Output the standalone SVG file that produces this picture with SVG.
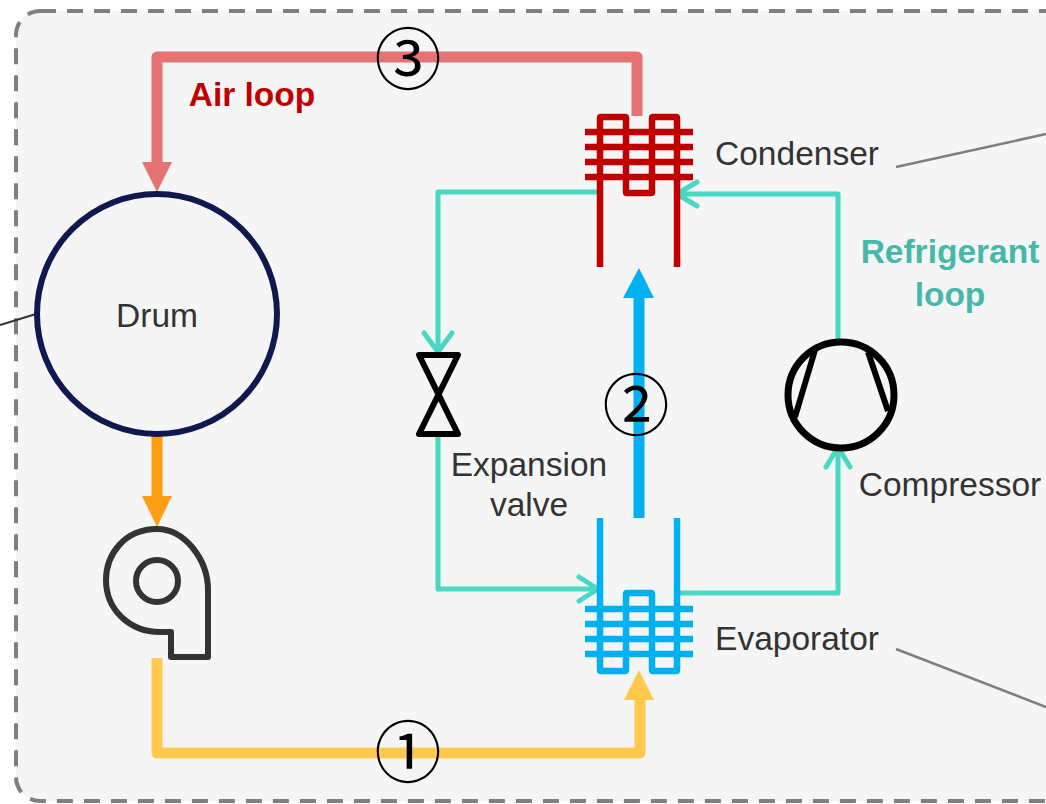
<svg xmlns="http://www.w3.org/2000/svg" width="1046" height="804" viewBox="0 0 1046 804">
<defs>
<style>
.t{font-family:"Liberation Sans",Arial,sans-serif;font-size:33.5px;fill:#333;text-anchor:middle}
.b{font-weight:bold;font-size:33.5px}
.n{font-family:"Noto Sans CJK JP","DejaVu Sans",sans-serif;font-size:67px;fill:#000;text-anchor:middle}
.r{fill:none;stroke:#48d8c4;stroke-width:5;stroke-linecap:round;stroke-linejoin:round}
.c{fill:none;stroke:#c00000;stroke-width:6.5;stroke-linecap:butt;stroke-linejoin:round}
.e{fill:none;stroke:#00b0f0;stroke-width:6.5;stroke-linejoin:round}
.k{fill:none;stroke:#000;stroke-width:6;stroke-linejoin:round}
.g{fill:none;stroke:#7f7f7f;stroke-width:2.5}
</style>
</defs>
<rect id="frame" x="16" y="11" width="1060" height="790" rx="24" fill="#f5f5f5" stroke="#7f7f7f" stroke-width="4" stroke-dasharray="16 11"/>
<g id="connectors">
<path d="M637 116V57H157V166" fill="none" stroke="#e57373" stroke-width="11" stroke-linejoin="round"/>
<path d="M142 162H172L157 192Z" fill="#e57373"/>
<path d="M157 435V500" fill="none" stroke="#ff9e14" stroke-width="11"/>
<path d="M142 496H172L157 527Z" fill="#ff9e14"/>
<path d="M157 658V753H640V696" fill="none" stroke="#ffc94d" stroke-width="11" stroke-linejoin="round"/>
<path d="M624 700H654L639 670Z" fill="#ffc94d"/>
<path d="M639 518V294" fill="none" stroke="#00b0f0" stroke-width="11"/>
<path d="M623 298H654L639 268Z" fill="#00b0f0"/>
<path class="r" d="M599 192H438V350M424 333L438 352L452 333"/>
<path class="r" d="M438 437V589H598M579 577L598 589L579 601"/>
<path class="r" d="M680 593H838V447M826 467L838 447L850 467"/>
<path class="r" d="M838 342V194H677M697 182L677 194L697 206"/>
<path class="g" d="M896 167L1046 134"/>
<path class="g" d="M896 649L1046 707"/>
<path d="M0 325L36 314" fill="none" stroke="#333" stroke-width="2"/>
</g>
<g id="condenser">
<path class="c" d="M600 267V118Q600 117 601 117H625Q626 117 626 118V192Q626 193 627 193H651Q652 193 652 192V118Q652 117 653 117H676Q677 117 677 118V267"/>
<path class="c" d="M585 132H693M585 147H693M585 162H693M585 177H693"/>
</g>
<g id="evaporator">
<path class="e" d="M600 518V670Q600 671 601 671H625Q626 671 626 670V594Q626 593 627 593H651Q652 593 652 594V670Q652 671 653 671H676Q677 671 677 670V518"/>
<path class="e" d="M585 609H693M585 624H693M585 639H693M585 654H693"/>
</g>
<g id="drum"><circle cx="157" cy="314" r="120" fill="none" stroke="#10194f" stroke-width="6"/><text class="t" x="157" y="327">Drum</text></g>
<g id="fan">
<path d="M157 529C124 529 106 555 106 580C106 610 130 632 160 632H171V657H208V590C208 560 185 529 157 529Z" fill="none" stroke="#333" stroke-width="6" stroke-linejoin="round"/>
<circle cx="157" cy="581" r="21" fill="none" stroke="#333" stroke-width="6"/>
</g>
<g id="compressor">
<circle cx="841" cy="395" r="53" fill="none" stroke="#000" stroke-width="7"/>
<path class="k" d="M815 350L795 417M868 352L888 411"/>
</g>
<g id="valve"><path class="k" d="M419 355H458L419 434H458Z"/></g>
<g id="labels">
<text class="t" x="797" y="165">Condenser</text>
<text class="t" x="797" y="650">Evaporator</text>
<text class="t" x="950" y="496">Compressor</text>
<text class="t" x="529" y="476">Expansion</text>
<text class="t" x="529" y="516">valve</text>
<text class="t b" x="252" y="106" style="fill:#c00000">Air loop</text>
<text class="t b" x="950" y="263" style="fill:#45b8a8">Refrigerant</text>
<text class="t b" x="950" y="306" style="fill:#45b8a8">loop</text>
<text class="n" x="408" y="84">③</text>
<text class="n" x="636" y="430">②</text>
<text class="n" x="408" y="777">①</text>
</g>
</svg>
